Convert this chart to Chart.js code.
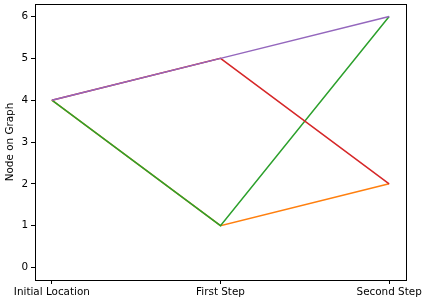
<!DOCTYPE html>
<html>
<head>
<meta charset="utf-8">
<script src="https://cdn.jsdelivr.net/npm/chart.js@4/dist/chart.umd.min.js"></script>
<style>
  html, body { margin: 0; padding: 0; background: #fff; }
  #wrap { width: 423px; height: 302px; }
</style>
</head>
<body>
<div id="wrap"><canvas id="chart"></canvas></div>
<script>
// pasos del recorrido (eje x) y nodo visitado en cada uno
const stepLabels = ['Initial Location', 'First Step', 'Second Step'];
const pathPurple = [4, 5, 6];
const pathRed    = [4, 5, 2];
const pathGreen  = [4, 1, 6];
const pathOrange = [4, 1, 2];
const yTicks = [0, 1, 2, 3, 4, 5, 6];

const toPoints = (ys) => ys.map((y, i) => ({ x: i, y: y }));

// marco completo alrededor del área de dibujo (estilo matplotlib)
const frame = {
    id: 'frame',
    afterDraw(chart) {
        const { ctx, chartArea: a } = chart;
        ctx.save();
        ctx.strokeStyle = '#000';
        ctx.lineWidth = 1;
        ctx.strokeRect(a.left + 0.5, a.top + 0.5, a.right - a.left, a.bottom - a.top);
        ctx.restore();
    },
};

const font = { family: 'DejaVu Sans', size: 10.4 };

// sin relleno automático para etiquetas en los extremos
const noPad = (axis) => {
    axis.paddingTop = 0; axis.paddingBottom = 0;
    axis.paddingLeft = 0; axis.paddingRight = 0;
};

// primero = dibujado arriba
const series = [
    { data: pathPurple, color: '#9467bd' },
    { data: pathRed,    color: '#d62728' },
    { data: pathGreen,  color: '#2ca02c' },
    { data: pathOrange, color: '#ff7f0e' },
];

new Chart(document.getElementById('chart'), {
    type: 'line',
    data: {
        datasets: series.map(s => ({
            data: toPoints(s.data),
            borderColor: s.color,
            borderWidth: 1.5,
            pointRadius: 0,
            tension: 0,
            fill: false,
        })),
    },
    plugins: [frame],
    options: {
        responsive: true,
        maintainAspectRatio: false,
        animation: false,
        layout: { padding: { top: 4, right: 17, left: 0, bottom: 0 } },
        plugins: { legend: { display: false }, tooltip: { enabled: false } },
        scales: {
            x: {
                type: 'linear',
                min: -0.1,
                max: 2.1,
                afterBuildTicks: (axis) => { axis.ticks = stepLabels.map((_, i) => ({ value: i })); },
                afterFit: (axis) => { axis.height = 22; noPad(axis); },
                ticks: {
                    color: '#000',
                    font: font,
                    padding: 2,
                    maxRotation: 0,
                    callback: (v) => stepLabels[v],
                },
                grid: { drawOnChartArea: false, tickLength: 4, tickColor: '#000' },
                border: { display: false },
            },
            y: {
                min: -0.3,
                max: 6.3,
                afterBuildTicks: (axis) => { axis.ticks = yTicks.map(v => ({ value: v })); },
                afterFit: (axis) => { axis.width = 35; noPad(axis); },
                ticks: { color: '#000', font: font, padding: 3 },
                grid: { drawOnChartArea: false, tickLength: 4, tickColor: '#000' },
                border: { display: false },
                title: {
                    display: true, text: 'Node on Graph', color: '#000', font: font,
                    padding: { top: 4, bottom: 0 },
                },
            },
        },
    },
});
</script>
</body>
</html>
